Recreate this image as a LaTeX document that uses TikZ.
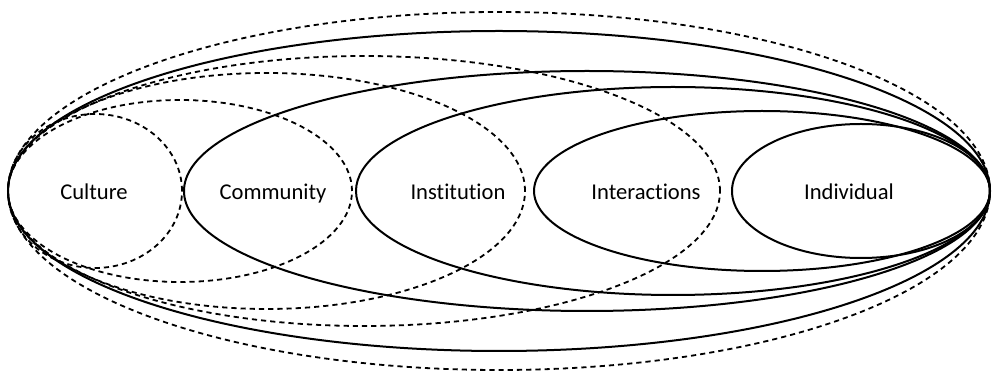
\documentclass[tikz,border=0pt]{standalone}
\usepackage{fontspec}
\setmainfont{Carlito}[Ligatures={NoCommon}]
\usetikzlibrary{positioning}
\tikzstyle{ring} = [line width=1pt]
\tikzstyle{dring} = [line width=0.9pt, dash pattern=on 2.6pt off 2pt]
\tikzstyle{lbl} = [anchor=base, inner sep=0pt, font=\fontsize{11.3}{13}\selectfont]

\begin{document}
\begin{tikzpicture}[x=0.5pt, y=0.5pt]
\useasboundingbox (0,-183) rectangle (992,191);

% solid rings, all touching on the right
\draw[ring] (861,0) ellipse (129 and 67);
\draw[ring] (762,0) ellipse (228 and 80);
\draw[ring] (673,0) ellipse (317 and 104);
\draw[ring] (587,0) ellipse (403 and 120);
\draw[ring] (499,0) ellipse (491 and 160);

% dashed rings, all touching on the left
\draw[dring] (95,0) ellipse (87 and 77);
\draw[dring] (180,0) ellipse (172 and 91);
\draw[dring] (266.5,0) ellipse (258.5 and 118);
\draw[dring] (364,0) ellipse (356 and 135);
\draw[dring] (499,0) ellipse (491 and 179);

\node[lbl] (cult) at (94,-9) {Culture};
\node[lbl] (comm) at (273,-9) {Community};
\node[lbl] (inst) at (458,-9) {Institution};
\node[lbl] (inter) at (646,-9) {Interactions};
\node[lbl] (ind) at (849,-9) {Individual};

\end{tikzpicture}
\end{document}
